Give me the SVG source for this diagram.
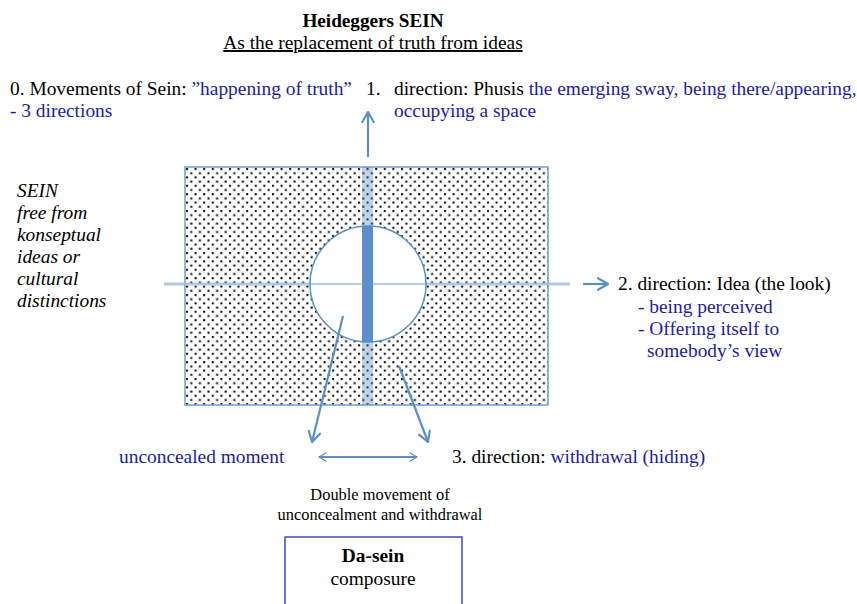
<svg xmlns="http://www.w3.org/2000/svg" width="857" height="604" viewBox="0 0 857 604" font-family="'Liberation Serif', 'DejaVu Serif', serif">
<style>
  text { font-family: 'Liberation Serif', 'DejaVu Serif', serif; font-size: 19.4px; fill: #000; }
  .b { fill: #1c1ca8; }
  .conn { stroke: #5b8fc9; stroke-width: 2.2; fill: none; }
</style>
<defs>
  <pattern id="dots" x="185" y="167" width="8.6" height="8.4" patternUnits="userSpaceOnUse">
    <rect x="1" y="1" width="2" height="2" fill="#000"/>
    <rect x="5.3" y="5.2" width="2" height="2" fill="#000"/>
  </pattern>
  <marker id="ah" viewBox="0 0 10 10" refX="8" refY="5" markerWidth="6.5" markerHeight="6.5" orient="auto-start-reverse" markerUnits="strokeWidth">
    <path d="M1,1 L8,5 L1,9" fill="none" stroke="#5b8fc9" stroke-width="1.5" stroke-linecap="round" stroke-linejoin="round"/>
  </marker>
  <marker id="ah2" viewBox="0 0 10 10" refX="8" refY="5" markerWidth="4.5" markerHeight="4.5" orient="auto-start-reverse" markerUnits="strokeWidth">
    <path d="M1,1 L8,5 L1,9" fill="none" stroke="#5b8fc9" stroke-width="1.3" stroke-linecap="round" stroke-linejoin="round"/>
  </marker>
</defs>
<rect width="857" height="604" fill="#fff"/>

<g id="title">
  <text x="373" y="27" text-anchor="middle" font-weight="bold" style="font-size:19.2px">Heideggers SEIN</text>
  <text x="373" y="49" text-anchor="middle" text-decoration="underline">As the replacement of truth from ideas</text>
</g>

<g id="dir0">
  <text x="10" y="95">0. Movements of Sein: <tspan class="b">”happening of truth”</tspan></text>
  <text x="10" y="117" class="b">- 3 directions</text>
</g>

<g id="dir1">
  <text x="366" y="95">1.</text>
  <text x="394" y="95">direction: Phusis <tspan class="b">the emerging sway, being there/appearing,</tspan></text>
  <text x="394" y="117" class="b">occupying a space</text>
</g>

<g id="sein-label">
  <text x="17" y="197" font-style="italic">SEIN</text>
  <text x="17" y="219" font-style="italic">free from</text>
  <text x="17" y="241" font-style="italic">konseptual</text>
  <text x="17" y="263" font-style="italic">ideas or</text>
  <text x="17" y="285" font-style="italic">cultural</text>
  <text x="17" y="307" font-style="italic">distinctions</text>
</g>

<g id="sein-field">
  <rect x="185" y="167" width="363" height="238" fill="url(#dots)" stroke="#6f9ed3" stroke-width="1.5"/>
  <rect x="362" y="167" width="11" height="238" fill="#4f81bd" fill-opacity="0.35"/>
  <line x1="164" y1="284" x2="570" y2="284" stroke="#9dbbe2" stroke-width="3" stroke-opacity="0.8"/>
  <circle cx="368" cy="284" r="58" fill="#fff" stroke="#5b8fc9" stroke-width="1.5"/>
  <line x1="310" y1="284" x2="426" y2="284" stroke="#6f9ed3" stroke-width="1"/>
  <rect x="362" y="226" width="11" height="116" fill="#5b8fc9"/>
</g>

<g id="dir2">
  <text x="618" y="290">2. direction: Idea (the look)</text>
  <text x="638" y="313" class="b">- being perceived</text>
  <text x="638" y="335" class="b">- Offering itself to</text>
  <text x="647" y="357" class="b">somebody’s view</text>
</g>

<g id="unconcealed">
  <text x="119" y="463" class="b">unconcealed moment</text>
</g>

<g id="dir3">
  <text x="452" y="463">3. direction: <tspan class="b">withdrawal (hiding)</tspan></text>
</g>

<g id="double-label">
  <text x="380" y="500" text-anchor="middle" style="font-size:16.4px">Double movement of</text>
  <text x="380" y="520" text-anchor="middle" style="font-size:16.4px">unconcealment and withdrawal</text>
</g>

<g id="dasein">
  <rect x="285" y="537" width="177" height="80" fill="#fff" stroke="#3a4fc6" stroke-width="1.5"/>
  <text x="373" y="562" text-anchor="middle" font-weight="bold">Da-sein</text>
  <text x="373" y="585" text-anchor="middle">composure</text>
</g>

<g id="connectors">
  <line class="conn" x1="368" y1="157" x2="368" y2="112" marker-end="url(#ah)"/>
  <line class="conn" x1="583" y1="284" x2="608" y2="284" stroke-width="2.6" marker-end="url(#ah)"/>
  <line class="conn" x1="343" y1="316" x2="312" y2="442" marker-end="url(#ah)"/>
  <line class="conn" x1="399" y1="366" x2="428" y2="442" marker-end="url(#ah)"/>
  <line class="conn" x1="319" y1="457" x2="417" y2="457" stroke-width="3.5" marker-start="url(#ah2)" marker-end="url(#ah2)"/>
</g>
</svg>
